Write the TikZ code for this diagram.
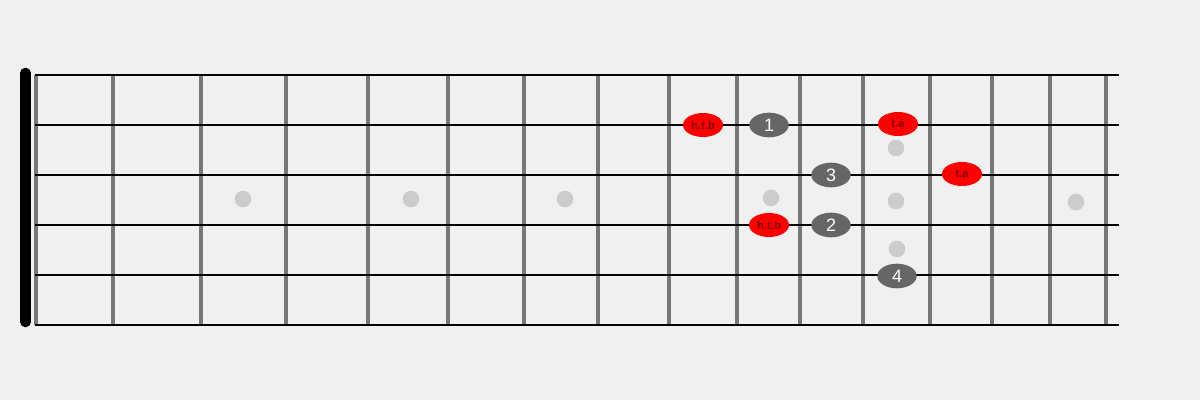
\documentclass[tikz,border=0pt]{standalone}
\usepackage{fontspec}
\setmainfont{Liberation Sans}
\usetikzlibrary{shapes.geometric}
\definecolor{board}{HTML}{F0F0F0}
\definecolor{fretgray}{HTML}{777777}
\definecolor{dotgray}{HTML}{CCCCCC}
\definecolor{notegray}{HTML}{666666}
\definecolor{tipred}{HTML}{FF0000}
\definecolor{tiptext}{HTML}{7A0000}

\begin{document}
\begin{tikzpicture}[x=0.75pt,y=-0.75pt,
    finger/.style={ellipse,fill=notegray,text=white,minimum width=29.5pt,minimum height=18.5pt,inner sep=0pt,font=\fontsize{13.5}{13.5}\selectfont},
    hint/.style={ellipse,fill=tipred,text=tiptext,minimum width=30pt,minimum height=18pt,inner sep=0pt,font=\fontsize{8.5}{8.5}\selectfont\bfseries},
    inlay/.style={circle,fill=dotgray,minimum size=12.5pt,inner sep=0pt}]
            \fill[board] (0,0) rectangle (1200,400);
            \useasboundingbox (0,0) rectangle (1200,400);
            \foreach \x in {36,113,201,286,368,448,524,598,669,737,800,863,930,992,1050,1106}
                \draw[fretgray,line width=3pt] (\x,75) -- (\x,325);
            \foreach \y in {75,125,...,325}
                \draw[line width=1.5pt] (35,\y) -- (1119,\y);
            \draw[line width=8pt,line cap=round] (25.5,73) -- (25.5,322);
            % inlays
            \node[inlay] (dot3) at (243,199) {};
            \node[inlay] (dot5) at (411,199) {};
            \node[inlay] (dot7) at (565,199) {};
            \node[inlay] (dot9) at (771,198) {};
            \node[inlay] (dot12a) at (896,148) {};
            \node[inlay] (dot12b) at (896,201) {};
            \node[inlay] (dot12c) at (897,249) {};
            \node[inlay] (dot15) at (1076,202) {};
            % fingers
            \node[finger] (f1) at (769,125) {1};
            \node[finger] (f3) at (831,175) {3};
            \node[finger] (f2) at (831,225) {2};
            \node[finger] (f4) at (897,276) {4};
            % hints
            \node[hint] (htbA) at (703,125) {h.t.b};
            \node[hint] (taA) at (898,124) {t.a};
            \node[hint] (taB) at (962,174) {t.a};
            \node[hint] (htbB) at (769,225) {h.t.b};
        \end{tikzpicture}
\end{document}
